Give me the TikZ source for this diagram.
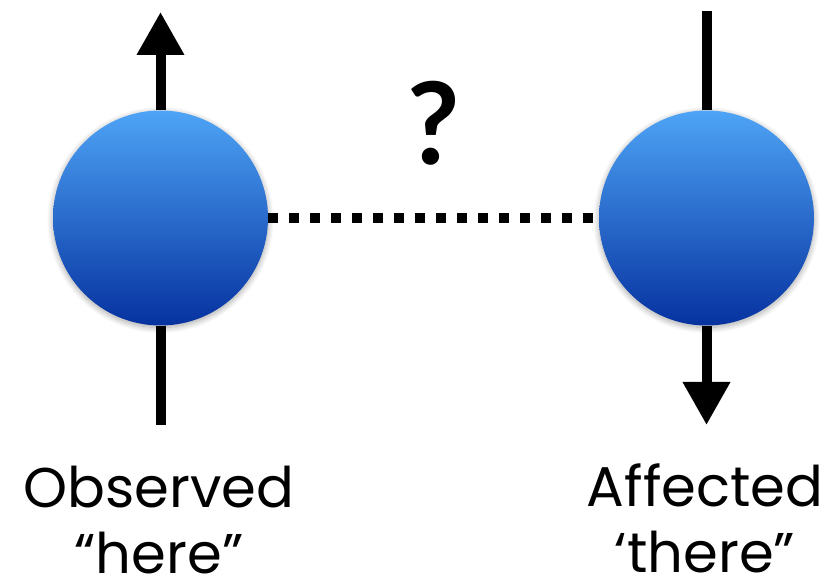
\documentclass[tikz,border=0pt]{standalone}
\usepackage{fontspec}
\setmainfont{Poppins}
\newfontfamily\qfont{Lato}
\usetikzlibrary{arrows.meta,shadows.blur}
\definecolor{balltop}{RGB}{78,164,246}
\definecolor{ballbot}{RGB}{6,50,160}
\tikzset{
  ball/.style={circle, minimum size=215pt, inner sep=0pt, top color=balltop, bottom color=ballbot,
    blur shadow={shadow xshift=0pt, shadow yshift=-2pt, shadow blur radius=6pt, shadow blur steps=12, shadow opacity=35}},
  spin/.style={line width=10pt, black},
  spinhead/.style={spin, -{Triangle[width=45pt,length=43pt]}},
  link/.style={line width=10pt, black, dash pattern=on 10pt off 11pt},
  label/.style={font=\fontsize{56}{66}\selectfont, align=center, anchor=base, inner sep=0pt},
}
\begin{document}
\begin{tikzpicture}[x=1pt,y=-1pt]
\useasboundingbox (0,0) rectangle (820,585);
\coordinate (Ltip) at (160.5,12);
\coordinate (Lbot) at (160.5,425);
\coordinate (Rtop) at (706.5,11);
\coordinate (Rtip) at (706.5,425);
\node[ball] (L) at (160.5,218) {};
\node[ball] (R) at (706.5,218) {};
\draw[spinhead] (L.north) -- (Ltip);
\draw[spin] (L.south) -- (Lbot);
\draw[spin] (R.north) -- (Rtop);
\draw[spinhead] (R.south) -- (Rtip);
\draw[link] (L.east) -- (R.west);
\node[font=\qfont\bfseries\fontsize{114}{114}\selectfont, anchor=base, inner sep=0pt] (q) at (434,165) {?};
\node[label] (lblL) at (159,573) {Observed\\“here”};
\node[label] (lblR) at (705,572) {Affected\\‘there”};
\end{tikzpicture}
\end{document}
